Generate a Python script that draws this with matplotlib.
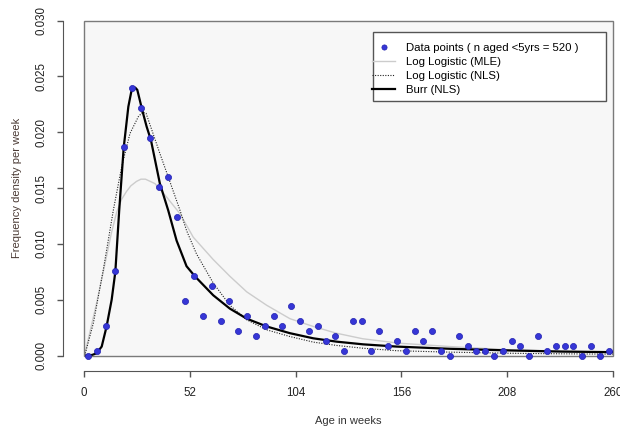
import matplotlib
matplotlib.use("Agg")
import matplotlib.pyplot as plt
from matplotlib.patches import Rectangle

# ---- data ----
n_total = 520
bin_weeks = 52 / 12
age_weeks = [(i + 0.5) * bin_weeks for i in range(60)]
counts = [0, 1, 6, 17, 42, 54, 50, 44, 34, 36,
          28, 11, 16, 8, 14, 7, 11, 5, 8, 4,
          6, 8, 6, 10, 7, 5, 6, 3, 4, 1,
          7, 7, 1, 5, 2, 3, 1, 5, 3, 5,
          1, 0, 4, 2, 1, 1, 0, 1, 3, 2,
          0, 4, 1, 2, 2, 2, 0, 2, 0, 1]
density = [c / (n_total * bin_weeks) for c in counts]

burr_x = [0, 1.3, 4, 6.2, 8.7, 11.1, 13.6, 15.4, 17.3, 19.5, 21.8, 23.2, 24.2,
          25.2, 26.2, 28.6, 30.8, 32.9, 37.3, 41.4, 45.5, 50.4, 54.5, 63.5,
          71.7, 80, 89.8, 101.2, 112.7, 124.2, 137.2, 153.6, 180, 210, 235, 260]
burr_y = [0, 0, 0.00005, 0.0002, 0.0008, 0.0026, 0.0050, 0.0075, 0.0130,
          0.0186, 0.0223, 0.0236, 0.0240, 0.0240, 0.0238, 0.0220, 0.0205,
          0.0193, 0.0154, 0.0130, 0.0103, 0.0080, 0.0071, 0.0054, 0.0042,
          0.0033, 0.0026, 0.0020, 0.00154, 0.00124, 0.0010, 0.0008, 0.0006,
          0.00045, 0.00035, 0.0003]

nls_x = [0, 0.5, 4.6, 9.5, 14.4, 18.5, 22.6, 26.7, 28.8, 30.5, 32.4, 37.3,
         41.4, 47.2, 50.4, 55.3, 63.5, 71.7, 80, 89.8, 101.2, 112.7, 124.2,
         137.2, 153.6, 180, 210, 235, 260]
nls_y = [0, 0.0001, 0.0029, 0.0077, 0.0130, 0.0169, 0.0199, 0.0214, 0.0218,
         0.0217, 0.0207, 0.0181, 0.0160, 0.0130, 0.0112, 0.0091, 0.0065,
         0.0045, 0.0032, 0.0023, 0.0017, 0.0012, 0.0009, 0.00065, 0.00043,
         0.0003, 0.0002, 0.00015, 0.00012]

mle_x = [0, 0.5, 6.2, 11.1, 13.5, 16, 18.5, 20.9, 23, 25.8, 28, 30.2, 34.9,
         40.6, 47.2, 53.7, 63.5, 71.7, 80, 89.8, 101.2, 112.7, 124, 137, 155,
         180, 210, 235, 260]
mle_y = [0, 0.0002, 0.0047, 0.0089, 0.0110, 0.0128, 0.0140, 0.0147, 0.0152,
         0.0156, 0.0158, 0.0158, 0.0154, 0.0142, 0.0127, 0.0106, 0.0086,
         0.0071, 0.0057, 0.0045, 0.0033, 0.0026, 0.0020, 0.0015, 0.0011,
         0.0008, 0.0005, 0.0004, 0.0003]

x_ticks = [0, 52, 104, 156, 208, 260]
y_ticks = [0.000, 0.005, 0.010, 0.015, 0.020, 0.025, 0.030]
y_tick_labels = ["0.000", "0.005", "0.010", "0.015", "0.020", "0.025", "0.030"]

# ---- figure ----
plt.rcParams['font.family'] = ['Liberation Sans', 'DejaVu Sans']
fig = plt.figure(figsize=(6.2, 4.3), dpi=100)
ax = fig.add_axes([84 / 620, (430 - 355.5) / 430, 529 / 620, 334.8 / 430])
ax.set_xlim(0, 260)
ax.set_ylim(0, 0.03)
ax.set_facecolor('#f7f7f7')

# box around plot region
ax.add_patch(Rectangle((0, 0), 1, 1, transform=ax.transAxes, fill=False,
                       edgecolor='#7a7a7a', linewidth=1.0, zorder=5, clip_on=False))

axis_col = '#555555'
for s in ['top', 'right']:
    ax.spines[s].set_visible(False)
ax.spines['left'].set_position(('outward', 15.3))
ax.spines['bottom'].set_position(('outward', 10.9))
ax.spines['left'].set_color(axis_col)
ax.spines['bottom'].set_color(axis_col)
ax.spines['left'].set_bounds(0, 0.03)
ax.spines['bottom'].set_bounds(0, 260)

ax.set_xticks(x_ticks)
ax.set_xticklabels([str(t) for t in x_ticks])
ax.set_yticks(y_ticks)
ax.set_yticklabels(y_tick_labels, rotation=90, va='center')
ax.tick_params(axis='both', colors=axis_col, labelcolor='#222222', labelsize=8.3,
               length=4, width=1)
ax.tick_params(axis='x', pad=8)
ax.tick_params(axis='y', pad=7)

ax.set_xlabel('Age in weeks', fontsize=8, color='#333333', labelpad=12)
ax.set_ylabel('Frequency density per week', fontsize=8, color='#4a3a34', labelpad=9.5)

# curves
ax.plot(mle_x, mle_y, color='#cccccc', lw=1.0, label='Log Logistic (MLE)', zorder=3)
ax.plot(nls_x, nls_y, color='#222222', lw=0.8, ls=(0, (1, 1.3)),
        label='Log Logistic (NLS)', zorder=3)
ax.plot(burr_x, burr_y, color='black', lw=1.6, label='Burr (NLS)', zorder=4)
ax.plot(age_weeks, density, 'o', color='#3636d6', markeredgecolor='#2020b0',
        markersize=4.4, markeredgewidth=0.5, clip_on=False, zorder=6,
        label='Data points ( n aged <5yrs = 520 )')

# legend frame
ax.add_patch(Rectangle((0.5463, 0.760), 0.4405, 0.206, transform=ax.transAxes,
                       facecolor='white', edgecolor='#555555', linewidth=1.0,
                       zorder=9))
handles, labels = ax.get_legend_handles_labels()
order = [3, 0, 1, 2]
leg = ax.legend([handles[i] for i in order], [labels[i] for i in order],
                loc='upper left', bbox_to_anchor=(0.5444, 0.934),
                fontsize=8.2, frameon=False, handlelength=2.05,
                handletextpad=0.95, labelspacing=0.36, borderpad=0,
                borderaxespad=0, markerscale=0.85)
leg.set_zorder(10)

fig.savefig('out.png', dpi=100)
